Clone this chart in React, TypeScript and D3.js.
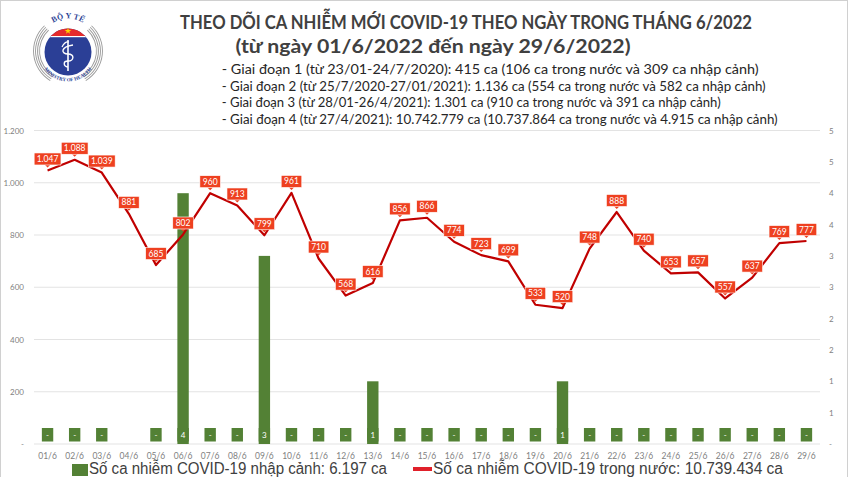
import React from 'react';
import * as d3 from 'd3';

const days = ['01/6', '02/6', '03/6', '04/6', '05/6', '06/6', '07/6', '08/6', '09/6', '10/6', '11/6', '12/6', '13/6', '14/6', '15/6',
  '16/6', '17/6', '18/6', '19/6', '20/6', '21/6', '22/6', '23/6', '24/6', '25/6', '26/6', '27/6', '28/6', '29/6'];
const domestic = [1047, 1088, 1039, 881, 685, 802, 960, 913, 799, 961, 710, 568, 616, 856, 866,
  774, 723, 699, 533, 520, 748, 888, 740, 653, 657, 557, 637, 769, 777];
const imported = [0, 0, 0, null, 0, 4, 0, 0, 3, 0, 0, 0, 1, 0, 0,
  0, 0, 0, 0, 1, 0, 0, 0, 0, 0, 0, 0, 0, 0];
const leftTicks = [0, 200, 400, 600, 800, 1000, 1200];
const rightTicks = [0, 0.5, 1, 1.5, 2, 2.5, 3, 3.5, 4, 4.5, 5];

const title = 'THEO DÕI CA NHIỄM MỚI COVID-19 THEO NGÀY TRONG THÁNG 6/2022';
const subtitle = '(từ ngày 01/6/2022 đến ngày 29/6/2022)';
const notes = [
  '- Giai đoạn 1 (từ 23/01-24/7/2020): 415 ca (106 ca trong nước và 309 ca nhập cảnh)',
  '- Giai đoạn 2 (từ 25/7/2020-27/01/2021): 1.136 ca (554 ca trong nước và 582 ca nhập cảnh)',
  '- Giai đoạn 3 (từ 28/01-26/4/2021): 1.301 ca (910 ca trong nước và 391 ca nhập cảnh)',
  '- Giai đoạn 4 (từ 27/4/2021): 10.742.779 ca (10.737.864 ca trong nước và 4.915 ca nhập cảnh)',
];
const noteWidths = [537, 544, 499, 556];
const legendBar = 'Số ca nhiễm COVID-19 nhập cảnh: 6.197 ca';
const legendLine = 'Số ca nhiễm COVID-19 trong nước: 10.739.434 ca';

const vn = d3.formatLocale({ decimal: ',', thousands: '.', grouping: [3], currency: ['', ''] });
const fmt = vn.format(',');

const GREEN = '#538135';
const RED = '#c00000';
const LABEL = '#ee4020';
const GRAY = '#7f7f7f';
const FONT = 'Lato, "Open Sans", sans-serif';

function Logo() {
  const cx = 68, cy = 51;
  const ring = (r: number) => {
    const a = d3.arc()({ innerRadius: r, outerRadius: r + 0.9, startAngle: -2.6, endAngle: -0.75 } as any);
    const b = d3.arc()({ innerRadius: r, outerRadius: r + 0.9, startAngle: 0.75, endAngle: 2.6 } as any);
    return [a, b];
  };
  const topArc = `M${cx - 24},${cy - 18} A27,27 0 0 1 ${cx + 24},${cy - 18}`;
  const botArc = `M${cx - 27},${cy + 12} A29,29 0 0 0 ${cx + 27},${cy + 12}`;
  return (
    <g>
      <defs>
        <clipPath id="logoClip"><circle cx={cx} cy={cy + 1} r={23.5} /></clipPath>
        <path id="logoTop" d={topArc} />
        <path id="logoBot" d={botArc} />
      </defs>
      {[28, 30, 32, 34].map((r) => ring(r).map((p, i) => (
        <path key={`${r}-${i}`} d={p as string} transform={`translate(${cx},${cy})`} fill="#9a9a9a" />
      )))}
      <g clipPath="url(#logoClip)">
        <rect x={cx - 25} y={cy - 25} width={50} height={50} fill="#2b3f96" />
        <rect x={cx - 25} y={cy - 25} width={50} height={10} fill="#e52b2b" />
        <rect x={cx - 25} y={cy - 15} width={50} height={1.2} fill="#ffffff" />
      </g>
      <path d={d3.symbol(d3.symbolStar, 14)() as string} transform={`translate(${cx},${cy - 20})`} fill="#ffd400" />
      <line x1={cx} y1={cy - 11} x2={cx} y2={cy + 20} stroke="#ffffff" strokeWidth={1.6} />
      <path d={`M${cx + 5},${cy - 6} C${cx - 8},${cy - 4} ${cx - 7},${cy + 3} ${cx},${cy + 3} C${cx + 7},${cy + 3} ${cx + 6},${cy + 10} ${cx},${cy + 10} C${cx - 5},${cy + 10} ${cx - 5},${cy + 15} ${cx},${cy + 16}`}
        fill="none" stroke="#ffffff" strokeWidth={1.4} />
      <path d={`M${cx - 6},${cy - 4} q3,-6 7,-5`} fill="none" stroke="#ffffff" strokeWidth={1.2} />
      <text fontFamily="'Liberation Serif', serif" fontSize={8} fontWeight="bold" fill="#2b3f96">
        <textPath href="#logoTop" startOffset="50%" textAnchor="middle">BỘ Y TẾ</textPath>
      </text>
      <text fontFamily="'Liberation Serif', serif" fontSize={5} fontWeight="bold" fill="#2b3f96">
        <textPath href="#logoBot" startOffset="50%" textAnchor="middle">MINISTRY OF HEALTH</textPath>
      </text>
    </g>
  );
}

export default function App() {
  const width = 848, height = 477;
  const x = d3.scaleBand().domain(days).range([34, 820]).paddingInner(0.58).paddingOuter(0.29);
  const cx = (d: string) => (x(d) as number) + x.bandwidth() / 2;
  const yL = d3.scaleLinear().domain([0, 1200]).range([444, 130.5]);
  const yR = d3.scaleLinear().domain([0, 5]).range([444, 130.5]);

  const line = d3.line<number>().x((_, i) => cx(days[i])).y((v) => yL(v));

  const labelW = (s: string) => s.replace(/\./g, '').length * 4.2 + (s.includes('.') ? 2 : 0) + 8;

  return (
    <svg width={width} height={height} style={{ position: 'absolute', left: 0, top: 0, background: '#fff' }}>
      <rect x={0.5} y={0.5} width={width - 1} height={height} fill="#fff" stroke="#d0d0d0" />
      <Logo />

      <text x={466} y={29} textAnchor="middle" fontFamily={FONT} fontWeight="bold" fontSize={18} fill="#404040"
        textLength={572} lengthAdjust="spacingAndGlyphs">{title}</text>
      <text x={433} y={53} textAnchor="middle" fontFamily={FONT} fontWeight="bold" fontSize={18} fill="#404040"
        textLength={395} lengthAdjust="spacingAndGlyphs">{subtitle}</text>
      {notes.map((n, i) => (
        <text key={i} x={221.7} y={74 + i * 16.5} fontFamily={FONT} fontSize={13.5} fill="#262626"
          textLength={noteWidths[i]} lengthAdjust="spacingAndGlyphs">{n}</text>
      ))}

      {/* grid + left axis */}
      {leftTicks.map((t) => (
        <g key={t}>
          <line x1={34} x2={820} y1={yL(t)} y2={yL(t)} stroke="#e3e3e3" strokeWidth={1} />
          <text x={24} y={yL(t) + 3} textAnchor="end" fontFamily={FONT} fontSize={8} fill={GRAY}>
            {t === 0 ? '-' : fmt(t)}
          </text>
        </g>
      ))}
      {rightTicks.map((t) => (
        <text key={t} x={829} y={yR(t) + 3} fontFamily={FONT} fontSize={8} fill={GRAY}>
          {t === 0 ? '-' : Math.round(t)}
        </text>
      ))}
      {days.map((d) => (
        <text key={d} x={cx(d)} y={458.5} textAnchor="middle" fontFamily={FONT} fontSize={8.5} fill={GRAY}>{d}</text>
      ))}

      {/* bars: imported cases */}
      {imported.map((v, i) => v == null ? null : (
        <g key={days[i]}>
          {v > 0 && <rect x={x(days[i])} y={yR(v)} width={x.bandwidth()} height={yR(0) - yR(v)} fill={GREEN} />}
          <rect x={x(days[i])} y={428} width={x.bandwidth()} height={13.5} fill={GREEN} />
          <text x={cx(days[i])} y={437.5} textAnchor="middle" fontFamily={FONT} fontSize={8} fill="#ffffff">
            {v === 0 ? '-' : v}
          </text>
        </g>
      ))}

      {/* line: domestic cases */}
      <path d={line(domestic) as string} fill="none" stroke={RED} strokeWidth={2.2} strokeLinejoin="round" />
      {domestic.map((v, i) => {
        const s = fmt(v);
        const w = labelW(s);
        const px = cx(days[i]);
        const py = yL(v) - 11.5;
        return (
          <g key={days[i]}>
            <path d={`M${px - 3},${py + 5.5} L${px + 3},${py + 5.5} L${px},${py + 8.5} Z`} fill={LABEL} />
            <rect x={px - w / 2} y={py - 6} width={w} height={12} fill={LABEL} stroke="#ffffff" strokeWidth={0.6} />
            <text x={px} y={py + 3} textAnchor="middle" fontFamily={FONT} fontSize={8.5} fill="#ffffff">{s}</text>
          </g>
        );
      })}

      {/* legend */}
      <rect x={72} y={464} width={16} height={12} fill={GREEN} />
      <text x={89} y={473.5} fontFamily='"Liberation Sans", Arial, sans-serif' fontSize={16} fill="#404040"
        textLength={298} lengthAdjust="spacingAndGlyphs">{legendBar}</text>
      <line x1={413} x2={432} y1={469} y2={469} stroke="#e0202a" strokeWidth={4} />
      <text x={433} y={473.5} fontFamily='"Liberation Sans", Arial, sans-serif' fontSize={16} fill="#404040"
        textLength={350} lengthAdjust="spacingAndGlyphs">{legendLine}</text>
    </svg>
  );
}
